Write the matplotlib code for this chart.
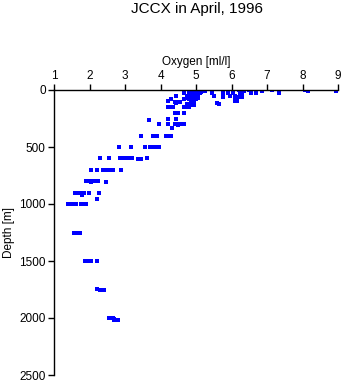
import numpy as np
import matplotlib
matplotlib.use('Agg')
import matplotlib.pyplot as plt

plt.rcParams['font.family'] = ['Liberation Sans', 'DejaVu Sans']

depth_0 = [0, 0, 0, 0, 0, 0, 0, 0, 0, 0]
oxy_0 = [4.85, 4.9, 4.95, 5.0, 5.05, 5.1, 6.2, 6.5, 7.15, 8.08]
depth_10 = [10, 10, 10, 10, 10, 10, 10, 10, 10]
oxy_10 = [4.8, 4.9, 5.0, 5.15, 5.25, 6.35, 6.85, 8.15, 8.95]
depth_20 = [20, 20, 20, 20, 20, 20]
oxy_20 = [4.85, 4.95, 5.05, 5.15, 6.3, 6.55]
depth_30 = [30, 30, 30, 30, 30, 30, 30, 30, 30, 30, 30, 30, 30]
oxy_30 = [4.65, 4.8, 4.9, 5.0, 5.1, 5.45, 5.75, 5.9, 6.05, 6.25, 6.55, 6.7, 7.35]
depth_50 = [50, 50, 50, 50, 50, 50, 50, 50, 50]
oxy_50 = [4.45, 4.75, 4.85, 4.95, 5.05, 5.5, 5.95, 6.1, 6.3]
depth_75 = [70, 70, 70, 70, 65, 60, 75, 60]
oxy_75 = [4.75, 4.85, 4.95, 5.05, 5.75, 6.2, 6.1, 6.3]
depth_80 = [80, 80, 80, 80, 80]
oxy_80 = [4.3, 4.65, 4.8, 4.9, 5.0]
depth_100 = [100, 105, 105, 105, 100, 100, 100, 95]
oxy_100 = [4.2, 4.4, 4.5, 4.55, 4.85, 4.95, 6.1, 6.15]
depth_120 = [115, 120, 120, 110]
oxy_120 = [5.6, 5.65, 4.75, 4.45]
depth_130 = [130, 130]
oxy_130 = [4.85, 4.95]
depth_150 = [145, 150, 150, 150, 150, 145]
oxy_150 = [4.2, 4.25, 4.35, 4.65, 4.75, 4.8]
depth_200 = [200, 200, 200, 200]
oxy_200 = [4.4, 4.45, 4.5, 4.65]
depth_250 = [250, 250, 262]
oxy_250 = [4.2, 4.45, 3.68]
depth_300 = [300, 300, 300, 300, 305, 300, 300, 300, 335]
oxy_300 = [3.97, 4.22, 4.4, 4.45, 4.5, 4.55, 4.6, 4.65, 4.33]
depth_400 = [400, 400, 400, 400, 400, 400, 400]
oxy_400 = [3.45, 3.8, 3.9, 4.15, 4.2, 4.25, 4.3]
depth_500 = [500, 500, 500, 500, 500, 500, 500]
oxy_500 = [2.84, 3.17, 3.56, 3.7, 3.8, 3.9, 3.97]
depth_600 = [600, 600, 600, 600, 600, 600, 600, 600, 605, 605, 600]
oxy_600 = [2.3, 2.55, 2.86, 2.95, 3.05, 3.1, 3.15, 3.2, 3.36, 3.45, 3.62]
depth_700 = [700, 700, 700, 700, 700, 705, 700, 700, 700]
oxy_700 = [2.03, 2.2, 2.38, 2.45, 2.5, 2.55, 2.6, 2.66, 2.89]
depth_800 = [800, 800, 800, 805, 800, 800, 800, 805]
oxy_800 = [1.9, 1.95, 2.0, 2.05, 2.1, 2.2, 2.24, 2.46]
depth_900 = [900, 900, 900, 905, 900, 900, 900, 900, 925, 955]
oxy_900 = [1.6, 1.65, 1.7, 1.75, 1.8, 1.85, 1.99, 2.27, 1.78, 2.2]
depth_1000 = [1000, 1000, 1000, 1000, 1000, 1000, 1000, 1000]
oxy_1000 = [1.4, 1.45, 1.5, 1.55, 1.62, 1.75, 1.85, 1.9]
depth_1250 = [1250, 1255, 1250, 1255]
oxy_1250 = [1.55, 1.6, 1.65, 1.72]
depth_1500 = [1500, 1500, 1500, 1500, 1500]
oxy_1500 = [1.88, 1.93, 2.0, 2.05, 2.2]
depth_1750 = [1745, 1750, 1750, 1750]
oxy_1750 = [2.22, 2.3, 2.35, 2.42]
depth_2000 = [2000, 2000, 2000, 2005, 2015, 2020, 2020]
oxy_2000 = [2.55, 2.6, 2.65, 2.7, 2.68, 2.75, 2.8]

depths = np.concatenate([depth_0, depth_10, depth_20, depth_30, depth_50, depth_75,
                         depth_80, depth_100, depth_120, depth_130, depth_150, depth_200,
                         depth_250, depth_300, depth_400, depth_500, depth_600, depth_700,
                         depth_800, depth_900, depth_1000, depth_1250, depth_1500,
                         depth_1750, depth_2000])
oxygen = np.concatenate([oxy_0, oxy_10, oxy_20, oxy_30, oxy_50, oxy_75,
                         oxy_80, oxy_100, oxy_120, oxy_130, oxy_150, oxy_200,
                         oxy_250, oxy_300, oxy_400, oxy_500, oxy_600, oxy_700,
                         oxy_800, oxy_900, oxy_1000, oxy_1250, oxy_1500,
                         oxy_1750, oxy_2000])

x_ticks = [1, 2, 3, 4, 5, 6, 7, 8, 9]
y_ticks = [0, 500, 1000, 1500, 2000, 2500]

fig = plt.figure(figsize=(3.45, 3.84), dpi=100)
ax = fig.add_axes([54 / 345, 1 - 375 / 384, (338 - 54) / 345, (375 - 90) / 384])

ax.plot(oxygen, depths, 's', color='#0000ff', markersize=2.4, markeredgewidth=0)

ax.set_xlim(1, 9)
ax.set_ylim(2500, 0)
ax.set_xticks(x_ticks)
ax.set_yticks(y_ticks)

# axes drawn on top and left only
ax.spines['right'].set_visible(False)
ax.spines['bottom'].set_visible(False)
ax.spines['top'].set_linewidth(1)
ax.spines['left'].set_linewidth(1)
ax.xaxis.tick_top()
ax.xaxis.set_label_position('top')
ax.tick_params(direction='out', length=4, width=1, labelsize=8.5, pad=2)

ax.set_xlabel('Oxygen [ml/l]', fontsize=8.5, labelpad=3)
ax.set_ylabel('Depth [m]', fontsize=8.5, labelpad=3)

fig.text(197 / 345, 1 - 9 / 384, 'JCCX in April, 1996', ha='center', va='center', fontsize=11)

fig.savefig('out.png', dpi=100)
